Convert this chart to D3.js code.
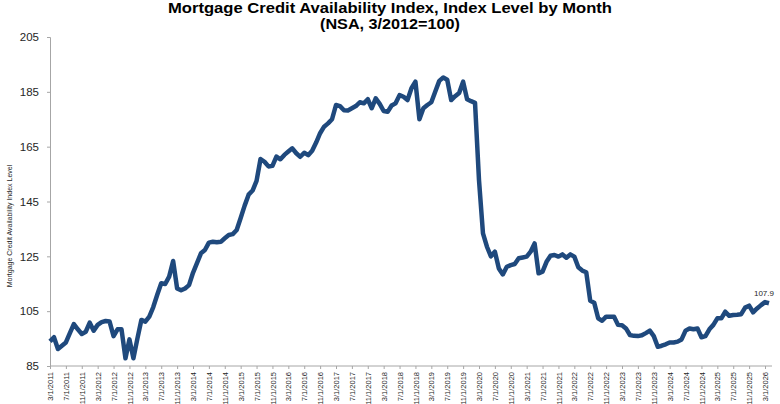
<!DOCTYPE html>
<html>
<head>
<meta charset="utf-8">
<script src="https://cdn.jsdelivr.net/npm/d3@7"></script>
<style>
  body { margin: 0; background: #fff; }
  svg { font-family: "Liberation Sans", Arial, sans-serif; }
  .axis path, .axis line { stroke: #a6a6a6; }
  .axis text { fill: #262626; }
</style>
</head>
<body>
<div id="container"></div>
<script>
// MCAI index, monthly, starting 3/2011
const mcai = [
  // 2011 Mar-Dec
  94.0, 95.5, 91.2, 92.4, 93.6, 97.0, 100.3, 98.4, 96.7, 97.5,
  // 2012
  100.8, 97.9, 100.0, 101.0, 101.4, 101.2, 95.9, 98.4, 98.4, 87.8, 94.7, 87.8,
  // 2013
  95.0, 101.8, 101.2, 103.0, 106.5, 111.0, 115.2, 114.9, 117.6, 123.3, 113.3, 112.6,
  // 2014
  113.3, 114.5, 119.0, 122.5, 126.1, 127.3, 130.0, 130.3, 130.1, 130.3, 131.6, 132.8,
  // 2015
  133.1, 134.6, 139.0, 143.5, 147.5, 149.0, 152.5, 160.5, 159.5, 157.8, 158.0, 161.4,
  // 2016
  160.4, 162.0, 163.2, 164.4, 162.6, 161.3, 162.8, 161.9, 163.5, 166.5, 169.9, 172.3,
  // 2017
  173.5, 175.0, 180.2, 179.8, 178.3, 178.2, 179.0, 179.8, 181.2, 180.8, 182.3, 179.0,
  // 2018
  182.6, 180.6, 178.0, 177.7, 180.0, 180.8, 183.8, 183.2, 182.0, 186.3, 188.7, 175.0,
  // 2019
  179.0, 180.2, 181.2, 185.1, 189.0, 190.2, 189.4, 182.0, 183.4, 184.6, 188.7, 182.3,
  // 2020
  181.6, 181.0, 152.8, 133.4, 128.5, 125.0, 126.7, 120.6, 118.4, 121.2, 121.8, 122.2,
  // 2021
  124.3, 124.6, 124.9, 126.7, 129.7, 118.8, 119.4, 123.0, 125.2, 125.5, 124.9, 125.7,
  // 2022
  124.5, 125.7, 124.9, 121.0, 119.8, 119.2, 108.8, 108.1, 102.4, 101.5, 103.0, 103.0,
  // 2023
  103.0, 100.0, 99.9, 98.7, 96.3, 96.0, 95.9, 96.2, 97.0, 97.9, 95.9, 92.0,
  // 2024
  92.4, 92.9, 93.6, 93.6, 93.9, 94.7, 97.9, 98.7, 98.4, 98.7, 95.5, 95.9,
  // 2025
  98.4, 100.0, 102.4, 102.4, 104.8, 103.3, 103.6, 103.7, 103.9, 106.3, 107.0, 104.6,
  // 2026 Jan-Apr
  106.0, 107.2, 108.3, 107.9
];

// x tick labels, one every 4 months
const xLabels = [
  "3/1/2011","7/1/2011","11/1/2011","3/1/2012","7/1/2012","11/1/2012",
  "3/1/2013","7/1/2013","11/1/2013","3/1/2014","7/1/2014","11/1/2014",
  "3/1/2015","7/1/2015","11/1/2015","3/1/2016","7/1/2016","11/1/2016",
  "3/1/2017","7/1/2017","11/1/2017","3/1/2018","7/1/2018","11/1/2018",
  "3/1/2019","7/1/2019","11/1/2019","3/1/2020","7/1/2020","11/1/2020",
  "3/1/2021","7/1/2021","11/1/2021","3/1/2022","7/1/2022","11/1/2022",
  "3/1/2023","7/1/2023","11/1/2023","3/1/2024","7/1/2024","11/1/2024",
  "3/1/2025","7/1/2025","11/1/2025","3/1/2026"
];
const yTicks = [85, 105, 125, 145, 165, 185, 205];

var width = 780, height = 404;
var svg = d3.select("#container").append("svg")
  .attr("width", width).attr("height", height);

var x = d3.scaleLinear().domain([0, 180]).range([50, 765]);
var y = d3.scaleLinear().domain([85, 205]).range([366, 37]);

// title (stretched wide like the original)
svg.append("text").attr("x", 390).attr("y", 13).attr("text-anchor", "middle")
  .style("font-weight", "bold").style("font-size", "14.5px").attr("fill", "#000")
  .attr("textLength", 444).attr("lengthAdjust", "spacingAndGlyphs")
  .text("Mortgage Credit Availability Index, Index Level by Month");
svg.append("text").attr("x", 390).attr("y", 29).attr("text-anchor", "middle")
  .style("font-weight", "bold").style("font-size", "14.5px").attr("fill", "#000")
  .attr("textLength", 140).attr("lengthAdjust", "spacingAndGlyphs")
  .text("(NSA, 3/2012=100)");

// y axis
var yAxis = svg.append("g").attr("class", "axis")
  .attr("transform", "translate(50,0)")
  .call(d3.axisLeft(y).tickValues(yTicks).tickSize(3).tickPadding(8));
yAxis.selectAll("text").style("font-size", "11.5px");

svg.append("text")
  .attr("transform", "translate(12,226) rotate(-90)")
  .attr("text-anchor", "middle").style("font-size", "7px").attr("fill", "#262626")
  .text("Mortgage Credit Availability Index Level");

// x axis, ticks every 4 months
var xAxis = svg.append("g").attr("class", "axis")
  .attr("transform", "translate(0,366)")
  .call(d3.axisBottom(x)
    .tickValues(xLabels.map(function(d, i){ return i * 4; }))
    .tickFormat(function(d, i){ return xLabels[i]; })
    .tickSize(3).tickSizeOuter(0));
xAxis.select(".domain").attr("d", "M50,0H772");
xAxis.selectAll("text")
  .style("font-size", "7.5px")
  .attr("text-anchor", "end")
  .attr("transform", "rotate(-90)")
  .attr("x", -6).attr("y", 0).attr("dy", "0.35em");

// the line
var line = d3.line()
  .x(function(d, i){ return x(i); })
  .y(function(d){ return y(d); });

svg.append("path").datum(mcai)
  .attr("fill", "none")
  .attr("stroke", "#1f497d")
  .attr("stroke-width", 4.5)
  .attr("stroke-linejoin", "round")
  .attr("d", line);

// label on the last point
var last = mcai.length - 1;
svg.append("text")
  .attr("x", x(last) - 5).attr("y", y(mcai[last]) - 7)
  .attr("text-anchor", "middle").style("font-size", "8px").attr("fill", "#262626")
  .text(mcai[last].toFixed(1));
</script>
</body>
</html>
